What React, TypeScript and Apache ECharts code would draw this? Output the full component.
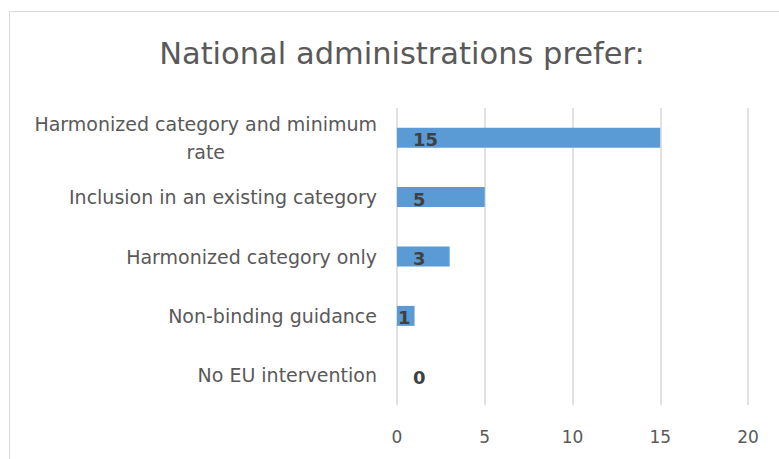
import React, { useEffect, useRef } from "react";
import * as echarts from "echarts";

const titleText = "National administrations prefer:";
const categories = [
  "Harmonized category and minimum\nrate",
  "Inclusion in an existing category",
  "Harmonized category only",
  "Non-binding guidance",
  "No EU intervention",
];
const values = [15, 5, 3, 1, 0];
const axisMin = 0;
const axisMax = 20;
const axisInterval = 5;

const labelFont = "'DejaVu Sans', sans-serif";

export default function App() {
  const ref = useRef<HTMLDivElement>(null);
  useEffect(() => {
    document.body.style.margin = "0";
    if (!ref.current) return;
    const chart = echarts.init(ref.current, undefined, { renderer: "svg" });
    const data = values.map((v) => ({
      value: v,
      label: { distance: v === 1 ? 1 : 16 },
    }));
    chart.setOption({
      animation: false,
      backgroundColor: "#ffffff",
      title: {
        text: titleText,
        left: 397,
        textAlign: "center",
        top: 33,
        textStyle: {
          fontFamily: "'DejaVu Sans', sans-serif",
          fontWeight: "normal",
          fontSize: 30.5,
          color: "#595959",
        },
      },
      graphic: [
        {
          type: "rect",
          shape: { x: 9.5, y: 11.5, width: 800, height: 500 },
          style: { fill: "none", stroke: "#d9d9d9", lineWidth: 1 },
          silent: true,
        },
      ],
      grid: { left: 397, right: 31, top: 108, bottom: 54 },
      xAxis: {
        type: "value",
        min: axisMin,
        max: axisMax,
        interval: axisInterval,
        axisLine: { show: false },
        axisTick: { show: false },
        splitLine: { show: true, lineStyle: { color: "#d9d9d9", width: 1.5 } },
        axisLabel: {
          color: "#595959",
          fontSize: 17,
          fontFamily: labelFont,
          margin: 23,
        },
      },
      yAxis: {
        type: "category",
        data: categories,
        inverse: true,
        axisLine: { show: false },
        axisTick: { show: false },
        axisLabel: {
          color: "#595959",
          fontSize: 19,
          fontFamily: labelFont,
          margin: 20,
          formatter: (val: string) =>
            val.includes("\n")
              ? val
                  .split("\n")
                  .map((l) => "{c|" + l + "}")
                  .join("\n")
              : val,
          rich: {
            c: {
              align: "center",
              color: "#595959",
              fontSize: 19,
              fontFamily: labelFont,
              lineHeight: 28,
            },
          },
        },
      },
      series: [
        {
          type: "bar",
          data,
          barWidth: 20,
          itemStyle: { color: "#5b9bd5" },
          label: {
            show: true,
            position: "insideLeft",
            color: "#404040",
            fontWeight: "bold",
            fontSize: 18,
            fontFamily: labelFont,
            offset: [0, 2],
          },
        },
      ],
    });
    return () => chart.dispose();
  }, []);
  return <div ref={ref} style={{ width: 779, height: 459 }} />;
}
